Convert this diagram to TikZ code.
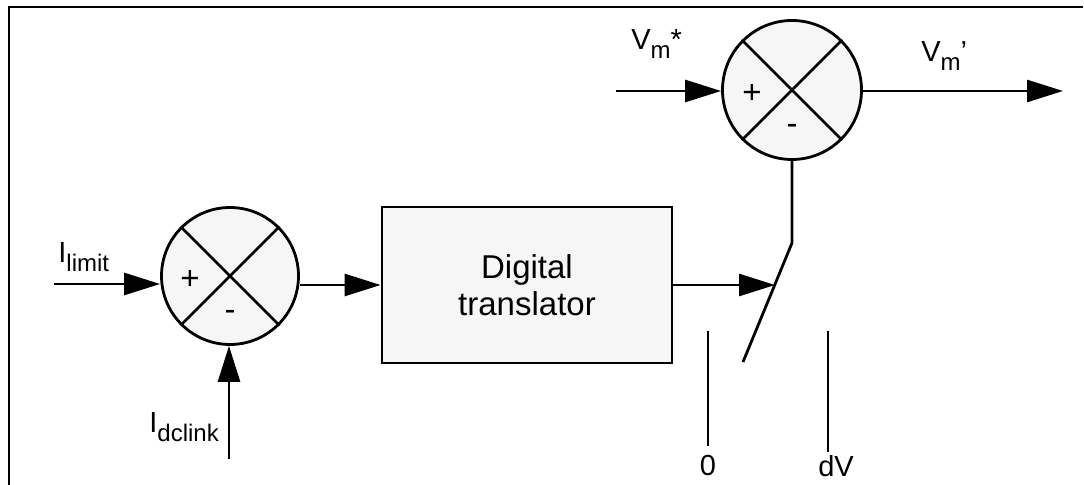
\documentclass[tikz,border=0pt]{standalone}
\usepackage{fontspec}
\setmainfont{Liberation Sans}
\usetikzlibrary{arrows.meta,positioning,calc}
\definecolor{cfill}{RGB}{246,246,246}
\newcommand{\lblfont}{\fontsize{14.5}{16}\selectfont}
\newcommand{\subfont}{\fontsize{12}{13}\selectfont}
\newcommand{\sigsub}[2]{#1\raisebox{-4.5pt}{\subfont #2}}

\begin{document}
\begin{tikzpicture}[x=0.5pt, y=-0.5pt, line width=1.4pt,
    summer/.style={circle, draw, fill=cfill, minimum size=68.5pt, inner sep=0pt},
    blockbox/.style={rectangle, draw, fill=cfill, minimum width=145pt, minimum height=78pt,
      align=center, font=\fontsize{16.5}{18.5}\selectfont},
    sig/.style={-{Triangle[length=18pt,width=11pt]}},
    lbl/.style={font=\lblfont, inner sep=0pt},
    sign/.style={font=\fontsize{16.5}{18}\selectfont, inner sep=0pt}]
    \useasboundingbox (0,0) rectangle (1084,485);
    % frame
    \draw (9,485) -- (9,7) -- (1083,7);
    % summing junctions
    \node[summer] (s1) at (230,276) {};
    \node[summer, minimum size=69.5pt] (s2) at (792,90) {};
    \foreach \s in {s1,s2}{
      \draw (\s.45) -- (\s.225) (\s.135) -- (\s.315);
      \node[sign] (\s-plus) at ([shift={(-40,4)}]\s) {+};
      \node[sign] (\s-minus) at ([shift={(0,39)}]\s) {-};
    }
    % current limit inputs
    \coordinate (ilim) at (54,284);
    \draw[sig] (ilim) -- (ilim -| s1.west);
    \node[lbl, anchor=base west] (ilimlbl) at (57,263) {\sigsub{I}{limit}};
    \coordinate (idc) at (229,459);
    \draw[sig] (idc) -- (idc |- s1.south);
    \node[lbl, anchor=base west] (idclbl) at (148,433) {\sigsub{I}{dclink}};
    % translator block
    \node[blockbox] (dt) at (527,285) {Digital\\translator};
    \draw[sig] (s1.east |- dt.west) -- (dt.west);
    % switch
    \coordinate (swtop) at (792,243);
    \coordinate (swend) at (743,362);
    \coordinate (swin) at (775,285);
    \draw (s2.south) -- (swtop) -- (swend);
    \draw[sig] (dt.east) -- (swin);
    \coordinate (c0top) at (708,331);
    \coordinate (c0bot) at (708,446);
    \coordinate (cdvtop) at (828,331);
    \coordinate (cdvbot) at (828,452);
    \draw (c0top) -- (c0bot) (cdvtop) -- (cdvbot);
    \node[lbl, anchor=base] (zero) at (708,476) {0};
    \node[lbl, anchor=base] (dvlbl) at (836,477) {dV};
    % motor voltage
    \coordinate (vin) at (616,91);
    \coordinate (vout) at (1063,91);
    \draw[sig] (vin) -- (vin -| s2.west);
    \draw[sig] (vin -| s2.east) -- (vout);
    \node[lbl, anchor=base west] (vinlbl) at (630,50) {\sigsub{V}{m}*};
    \node[lbl, anchor=base west] (voutlbl) at (920,62) {\sigsub{V}{m}’};
\end{tikzpicture}
\end{document}
